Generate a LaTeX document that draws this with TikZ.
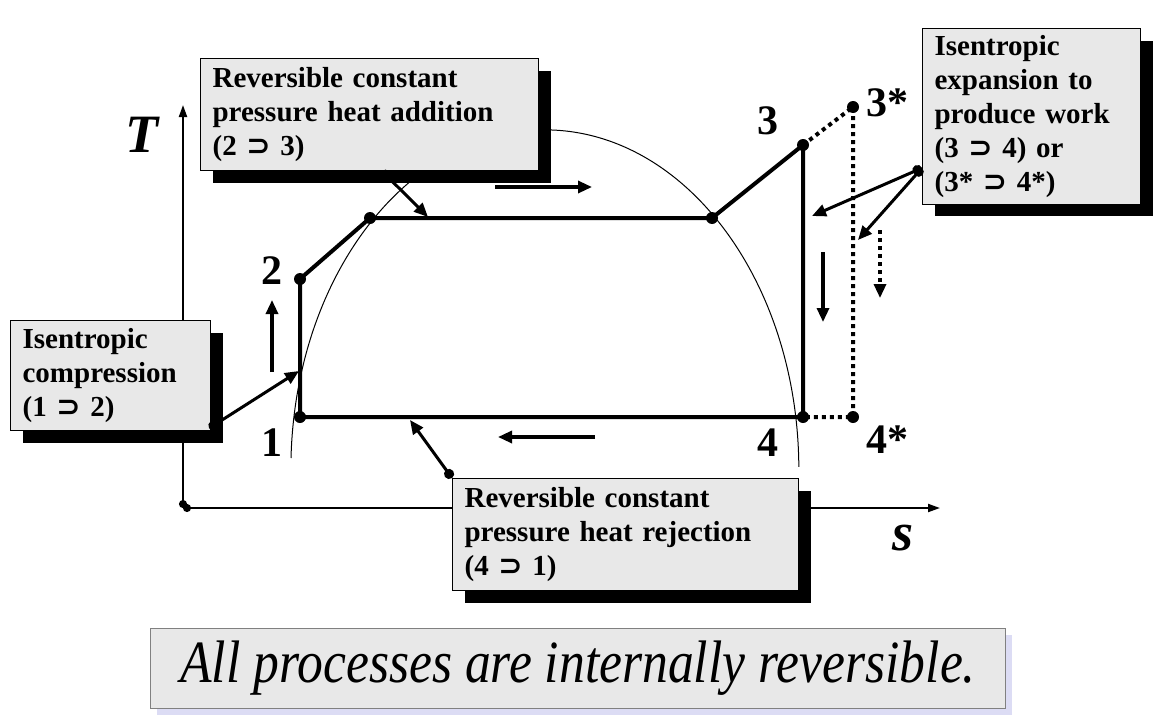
\documentclass[tikz,border=0pt]{standalone}
\usepackage{fontspec}
\setmainfont{Liberation Serif}
\newfontfamily\boxfont{Liberation Serif}[WordSpace=0.75]
\newfontfamily\symfont{DejaVu Sans}
\usetikzlibrary{arrows.meta, positioning, shadows}

\definecolor{boxfill}{HTML}{E8E8E8}
\definecolor{lavender}{HTML}{DCDCF4}
\newcommand{\goes}{{\symfont\bfseries ⊃}}

\begin{document}
\begin{tikzpicture}[x=0.5pt, y=-0.5pt,
  infobox/.style={draw, line width=0.6pt, fill=boxfill, anchor=north west,
    align=left, inner xsep=6pt,
    font=\boxfont\fontsize{14.5}{17}\selectfont\bfseries,
    drop shadow={shadow xshift=6pt, shadow yshift=-6pt, fill=black, opacity=1}},
  cycle/.style={line width=2pt, line join=round},
  dots/.style={line width=2pt, dash pattern=on 2pt off 2pt},
  dome/.style={line width=0.5pt},
  flow/.style={line width=1.6pt, -{Triangle[length=7pt, width=6pt]}},
  leader/.style={line width=1.5pt, {Circle[length=5pt]}-{Triangle[length=7pt, width=6pt]}},
  axis/.style={line width=1pt, {Circle[length=4pt]}-{Triangle[length=6pt, width=4pt]}},
  num/.style={font=\fontsize{21}{23}\selectfont\bfseries},
  var/.style={font=\fontsize{27}{29}\selectfont\bfseries\itshape}]
  \useasboundingbox (0,0) rectangle (1170,717);

  % points of the cycle
  \coordinate (p1) at (300,417);
  \coordinate (p2) at (300,279);
  \coordinate (pf) at (370,218);
  \coordinate (pg) at (712,218);
  \coordinate (p3) at (803,145);
  \coordinate (p4) at (803,417);
  \coordinate (p3s) at (853,107);
  \coordinate (p4s) at (853,417);

  % axes
  \coordinate (O) at (183,508);
  \coordinate (Tend) at (183,105);
  \coordinate (send) at (940,508);
  \draw[axis] (O) -- (Tend);
  \draw[axis] (O) -- (send);
  \node[var] (T) at (142,135) {T};
  \node[var] (s) at (903,538) {s};

  % saturation dome
  \draw[dome] (291,458) arc[start angle=178, end angle=0.5, x radius=127pt, y radius=170pt];

  % cycle
  \draw[cycle] (p1) -- (p2) -- (pf) -- (pg) -- (p3) -- (p4) -- cycle;
  \draw[dots] (p3) -- (p3s) -- (p4s) -- (p4);
  \foreach \p in {p1, p2, pf, pg, p3, p4, p3s, p4s}
    \fill (\p) circle (3pt);

  \node[num] (n1) at (272,443) {1};
  \node[num] (n2) at (272,271) {2};
  \node[num] (n3) at (768,121) {3};
  \node[num] (n4) at (768,443) {4};
  \node[num] (n3s) at (887,103) {3*};
  \node[num] (n4s) at (887,440) {4*};

  % direction arrows
  \coordinate (fa) at (495,187);  \coordinate (fb) at (592,187);
  \coordinate (fc) at (595,437);  \coordinate (fd) at (498,437);
  \coordinate (fe) at (272,372);  \coordinate (ff) at (272,300);
  \coordinate (fg) at (823,252);  \coordinate (fh) at (823,322);
  \coordinate (fi) at (880,230);  \coordinate (fj) at (880,298);
  \draw[flow] (fa) -- (fb);
  \draw[flow] (fc) -- (fd);
  \draw[flow] (fe) -- (ff);
  \draw[flow] (fg) -- (fh);
  \draw[flow, dash pattern=on 2pt off 2pt] (fi) -- (fj);

  % boxes
  \node[infobox, text width=157pt, minimum height=56pt] (addbox) at (200,58)
    {Reversible constant\\pressure heat addition\\(2 \goes{} 3)};
  \node[infobox, text width=88pt, minimum height=55pt] (compbox) at (10,320)
    {Isentropic\\compression\\(1 \goes{} 2)};
  \node[infobox, text width=97pt, minimum height=86pt] (expbox) at (922,28)
    {Isentropic\\expansion to\\produce work\\(3 \goes{} 4) or\\(3* \goes{} 4*)};
  \node[infobox, text width=161pt, minimum height=56pt] (rejbox) at (452,478)
    {Reversible constant\\pressure heat rejection\\(4 \goes{} 1)};

  % leaders
  \coordinate (addtip) at (428,217);
  \coordinate (comptip) at (299,371);
  \coordinate (exptipa) at (812,216);
  \coordinate (exptipb) at (858,240);
  \coordinate (rejtip) at (410,420);
  \draw[leader] ([xshift=91pt]addbox.south west) -- (addtip);
  \draw[leader] ([xshift=-1pt, yshift=1.5pt]compbox.south east) -- (comptip);
  \draw[leader] ([yshift=-70pt]expbox.north west) -- (exptipa);
  \draw[leader] ([yshift=-70pt]expbox.north west) -- (exptipb);
  \draw[leader] (rejbox.north west) -- (rejtip);

  % note
  \node[draw=gray, line width=0.6pt, fill=boxfill, anchor=north west,
    minimum width=427.5pt, minimum height=40pt,
    font=\fontsize{30}{32}\selectfont\itshape,
    drop shadow={shadow xshift=3pt, shadow yshift=-3pt, fill=lavender, opacity=1}]
    (note) at (150,628) {\scalebox{0.86}[1]{All processes are internally reversible.}};
\end{tikzpicture}
\end{document}
